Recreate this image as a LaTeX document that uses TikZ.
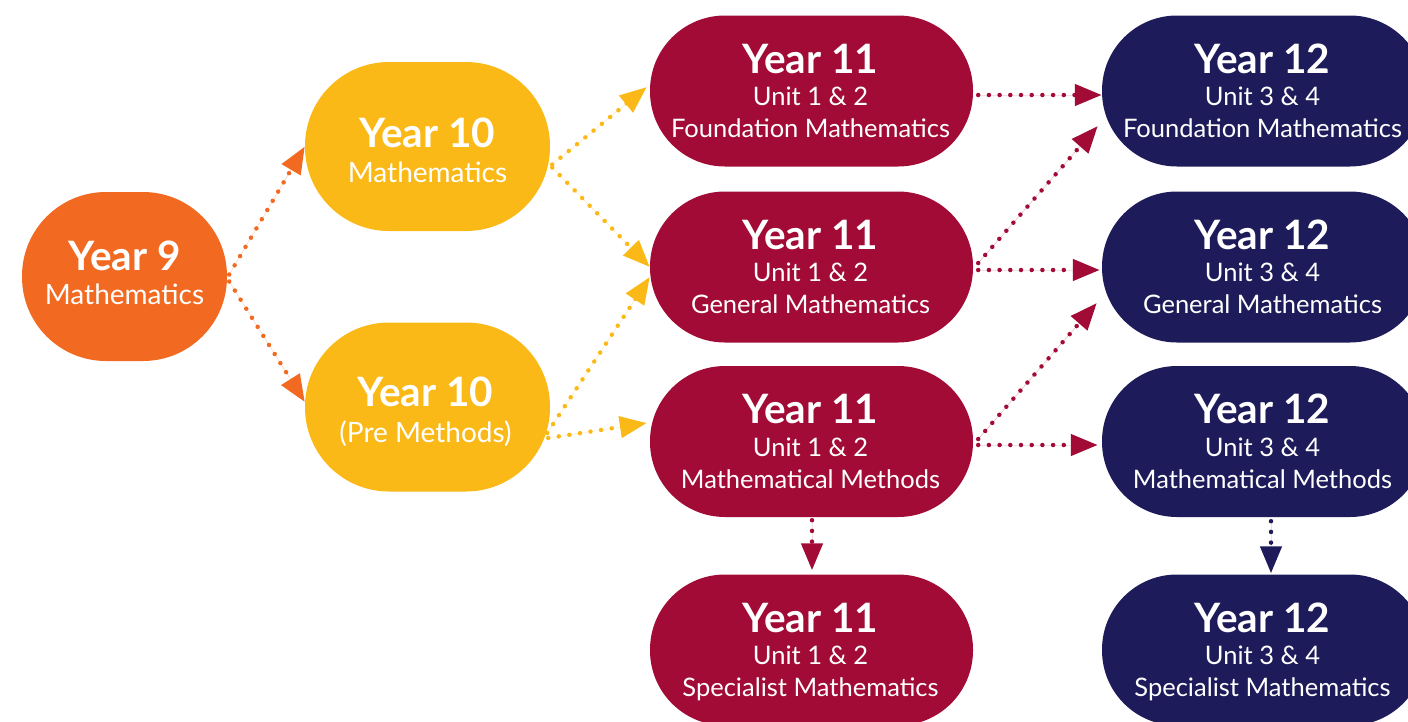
\documentclass[tikz,border=0pt]{standalone}
\usepackage{fontspec}
\setmainfont{Lato}
\usetikzlibrary{arrows.meta}
\definecolor{corange}{HTML}{F26A22}
\definecolor{cyellow}{HTML}{FBB917}
\definecolor{ccrimson}{HTML}{A10B36}
\definecolor{cnavy}{HTML}{1E1B5A}
\begin{document}
\begin{tikzpicture}[x=1pt,y=-1pt,
  pill/.style n args={4}{rectangle, inner sep=0pt, fill=#1, minimum width=#2, minimum height=#3, rounded corners=#4},
  yr/.style={anchor=base, text=white, inner sep=0pt, font=\fontsize{40.5}{40}\selectfont\bfseries},
  sub/.style={anchor=base, text=white, inner sep=0pt, font=\fontsize{25.5}{25}\selectfont},
  subbig/.style={anchor=base, text=white, inner sep=0pt, font=\fontsize{28}{28}\selectfont},
  arr/.style={draw=#1, fill=#1, line width=4.5pt, line cap=round, dash pattern=on 0pt off 10.7pt,
    -{Triangle[length=27pt,width=21pt]}}]
\useasboundingbox (0,0) rectangle (1408,721);

% boxes
\node[pill={corange}{205pt}{169pt}{84pt}] (y9) at (124.5,276.5) {};
\node[pill={cyellow}{245pt}{169pt}{84pt}] (y10m) at (427.5,146.5) {};
\node[pill={cyellow}{245pt}{169pt}{84pt}] (y10p) at (427.5,407) {};
\node[pill={ccrimson}{323pt}{151pt}{75pt}] (y11f) at (811.5,91) {};
\node[pill={ccrimson}{323pt}{151pt}{75pt}] (y11g) at (811.5,267) {};
\node[pill={ccrimson}{323pt}{151pt}{75pt}] (y11m) at (811.5,441.5) {};
\node[pill={ccrimson}{323pt}{151pt}{75pt}] (y11s) at (811.5,650) {};
\node[pill={cnavy}{323pt}{151pt}{75pt}] (y12f) at (1263.5,91) {};
\node[pill={cnavy}{323pt}{151pt}{75pt}] (y12g) at (1263.5,267) {};
\node[pill={cnavy}{323pt}{151pt}{75pt}] (y12m) at (1263.5,441.5) {};
\node[pill={cnavy}{323pt}{151pt}{75pt}] (y12s) at (1263.5,650) {};

% texts
\node[yr] (t9a) at ([shift={(0,-6.5)}]y9.center) {Year 9};
\node[subbig] (t9b) at ([shift={(0,27.5)}]y9.center) {Mathematics};
\node[yr] (t10ma) at ([shift={(0,0.5)}]y10m.center) {Year 10};
\node[subbig] (t10mb) at ([shift={(0,35.5)}]y10m.center) {Mathematics};
\node[yr] (t10pa) at ([shift={(-2,-1)}]y10p.center) {Year 10};
\node[subbig] (t10pb) at ([shift={(-2,35)}]y10p.center) {(Pre Methods)};

\foreach \n/\yy/\uu/\tt in {y11f/11/1 \& 2/Foundation Mathematics, y11g/11/1 \& 2/General Mathematics,
  y11m/11/1 \& 2/Mathematical Methods, y11s/11/1 \& 2/Specialist Mathematics,
  y12f/12/3 \& 4/Foundation Mathematics, y12g/12/3 \& 4/General Mathematics,
  y12m/12/3 \& 4/Mathematical Methods, y12s/12/3 \& 4/Specialist Mathematics}{
  \node[yr] (\n-a) at ([shift={(-1,-18)}]\n.center) {Year \yy};
  \node[sub] (\n-b) at ([shift={(-1,14.5)}]\n.center) {Unit \uu};
  \node[sub] (\n-c) at ([shift={(-1,46.5)}]\n.center) {\tt};
}

% connectors
\draw[arr=corange] ([shift={(2,-2)}]y9.east) -- (y10m.west);
\draw[arr=corange] ([shift={(2,5)}]y9.east) -- ([shift={(0,-5)}]y10p.west);

\draw[arr=cyellow] ([shift={(2,18)}]y10m.east) -- ([shift={(-3,-4)}]y11f.west);
\draw[arr=cyellow] ([shift={(2,21)}]y10m.east) -- (y11g.west);
\draw[arr=cyellow] ([shift={(-3,26)}]y10p.east) -- ([shift={(0,10)}]y11g.west);
\draw[arr=cyellow] ([shift={(-2,31)}]y10p.east) -- ([shift={(-3,-18.5)}]y11m.west);

\draw[arr=ccrimson] ([shift={(5,4)}]y11f.east) -- ([shift={(0,4)}]y12f.west);
\draw[arr=ccrimson] ([shift={(5,-4)}]y11g.east) -- ([shift={(-4,35)}]y12f.west);
\draw[arr=ccrimson] ([shift={(5,3)}]y11g.east) -- ([shift={(-2,3)}]y12g.west);
\draw[arr=ccrimson] ([shift={(5,-2.5)}]y11m.east) -- ([shift={(-5,36)}]y12g.west);
\draw[arr=ccrimson] ([shift={(5,3.5)}]y11m.east) -- ([shift={(-4,3.5)}]y12m.west);
\draw[arr=ccrimson] ([shift={(0.5,3)}]y11m.south) -- ([shift={(0.5,-4)}]y11s.north);

\draw[arr=cnavy] ([shift={(7.5,4)}]y12m.south) -- ([shift={(7.5,-1)}]y12s.north);
\end{tikzpicture}
\end{document}
